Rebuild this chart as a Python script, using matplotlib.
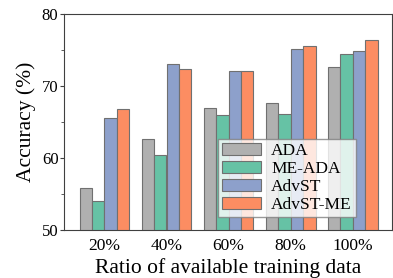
import numpy as np
import matplotlib
matplotlib.use("Agg")
import matplotlib.pyplot as plt
from matplotlib.ticker import MultipleLocator

ratios = ["20%", "40%", "60%", "80%", "100%"]
methods = ["ADA", "ME-ADA", "AdvST", "AdvST-ME"]
ada = [55.8, 62.7, 66.9, 67.6, 72.7]
me_ada = [54.0, 60.4, 66.0, 66.1, 74.5]
advst = [65.5, 73.1, 72.1, 75.1, 74.9]
advst_me = [66.8, 72.4, 72.1, 75.5, 76.4]

colors = ["#b0b0b0", "#66c2a5", "#8da0cb", "#fc8d62"]

plt.rcParams["font.family"] = ["Liberation Serif", "DejaVu Serif"]

fig = plt.figure(figsize=(3.93, 2.78), dpi=100)
ax = fig.add_axes([64 / 393, 48 / 278, 328 / 393, 216 / 278])

x = np.arange(len(ratios))
width = 0.2
for i, (vals, name) in enumerate(zip([ada, me_ada, advst, advst_me], methods)):
    ax.bar(x + (i - 1.5) * width, vals, width, color=colors[i], label=name,
           edgecolor="#707070", linewidth=0.8)

ax.set_ylim(50, 80)
ax.set_xlim(-0.65, 4.63)
ax.set_xticks(x)
ax.set_xticklabels(ratios, fontsize=12.5)
ax.yaxis.set_major_locator(MultipleLocator(10))
ax.yaxis.set_minor_locator(MultipleLocator(5))
ax.tick_params(axis="y", labelsize=12, length=3, pad=1, color="#404040")
ax.tick_params(axis="y", which="minor", length=2, color="#404040")
ax.tick_params(axis="x", length=0, pad=6)
for s in ax.spines.values():
    s.set_color("#404040")
    s.set_linewidth(0.8)

ax.set_ylabel("Accuracy (%)", fontsize=15.5, labelpad=4.5)
ax.set_xlabel("Ratio of available training data", fontsize=15.5, labelpad=3)

leg = ax.legend(loc="lower right", bbox_to_anchor=(0.89, 0.06), fontsize=12.5,
                fancybox=False, framealpha=0.8, edgecolor="#808080",
                handlelength=2.2, handletextpad=0.6, labelspacing=0.1,
                borderpad=0.25, borderaxespad=0)

fig.savefig("out.png", dpi=100)
